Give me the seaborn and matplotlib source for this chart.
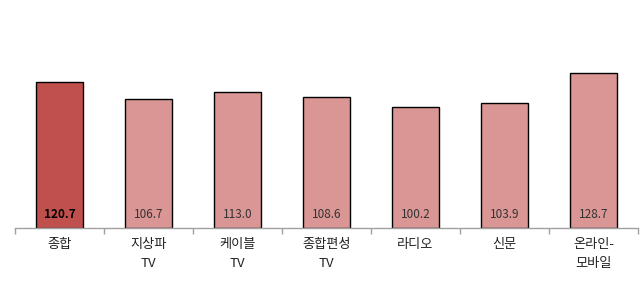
import matplotlib
matplotlib.use("Agg")
import matplotlib.pyplot as plt
import seaborn as sns
import pandas as pd

categories = ["종합", "지상파\nTV", "케이블\nTV", "종합편성\nTV", "라디오", "신문", "온라인-\n모바일"]
values = [120.7, 106.7, 113.0, 108.6, 100.2, 103.9, 128.7]
value_labels = ["120.7", "106.7", "113.0", "108.6", "100.2", "103.9", "128.7"]
bar_colors = ["#C0504D", "#D99694", "#D99694", "#D99694", "#D99694", "#D99694", "#D99694"]

sns.set_theme(style="white")
plt.rcParams['font.family'] = ['Noto Sans CJK KR', 'DejaVu Sans']

df = pd.DataFrame({"cat": categories, "val": values})

fig = plt.figure(figsize=(6.44, 2.88), dpi=100)
ax = fig.add_axes([15/644, 60/288, 623/644, 217/288])

sns.barplot(data=df, x="cat", y="val", hue="cat", palette=bar_colors, legend=False,
            width=0.53, edgecolor="black", linewidth=1.0, saturation=1, ax=ax)

ax.set_ylim(0, 180)
ax.set_xlim(-0.5, len(categories) - 0.5)
ax.set_xlabel("")
ax.set_ylabel("")
ax.set_yticks([])
for s in ["top", "left", "right"]:
    ax.spines[s].set_visible(False)
ax.spines["bottom"].set_color("#A0A0A0")
ax.spines["bottom"].set_linewidth(1.0)

ax.set_xticks(range(len(categories)))
ax.set_xticklabels(categories, fontsize=9.5, color="#222222", linespacing=1.6)
ax.tick_params(axis="x", which="major", length=0, pad=7)
ax.set_xticks([i - 0.5 for i in range(len(categories) + 1)], minor=True)
ax.tick_params(axis="x", which="minor", length=4, color="#A0A0A0", width=1, bottom=True, direction="out")

for i, (v, lab) in enumerate(zip(values, value_labels)):
    ax.text(i, 6, lab, ha="center", va="bottom", fontsize=8.5,
            fontweight="bold" if i == 0 else "normal",
            color="black" if i == 0 else "#333333")

fig.savefig("out.png", dpi=100)
